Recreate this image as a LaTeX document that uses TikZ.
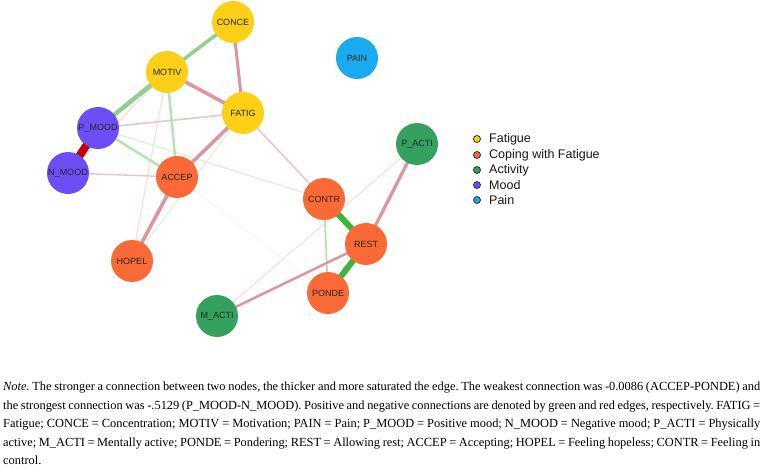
\documentclass[tikz,border=0pt]{standalone}
\usepackage{fontspec}
\setmainfont{Liberation Serif}
\setsansfont{Liberation Sans}
\definecolor{nYel}{HTML}{FDD017}
\definecolor{nOra}{HTML}{FA6A36}
\definecolor{nGre}{HTML}{34A15E}
\definecolor{nPur}{HTML}{6C4DF6}
\definecolor{nBlu}{HTML}{19AAF0}
\definecolor{posS}{HTML}{3DB53D}
\definecolor{posM}{HTML}{8ED18E}
\definecolor{posL}{HTML}{B8E2B8}
\definecolor{posF}{HTML}{DFF1DF}
\definecolor{negS}{HTML}{C00000}
\definecolor{negM}{HTML}{DB979C}
\definecolor{negL}{HTML}{EDC3C8}
\definecolor{negF}{HTML}{F6E0E3}
\definecolor{negX}{HTML}{FAF0F1}
\pgfdeclarelayer{bg}
\pgfdeclarelayer{edges}
\pgfsetlayers{bg,edges,main}
\tikzset{
  vnode/.style={circle, minimum size=42pt, inner sep=0pt, font=\sffamily\fontsize{9}{10}\selectfont, text=black!85},
  edge/.style={line cap=butt},
  legdot/.style={circle, minimum size=7pt, inner sep=0pt, draw=black!80, line width=0.8pt},
  legtxt/.style={anchor=west, inner sep=0pt, font=\sffamily\fontsize{12.5}{14}\selectfont, text=black!90}
}
\begin{document}
\begin{tikzpicture}[x=1pt,y=-1pt]
\begin{pgfonlayer}{bg}
\fill[white] (0,0) rectangle (763,468);
\end{pgfonlayer}
\useasboundingbox (0,0) rectangle (763,468);
\node[vnode, fill=nYel] (CONCE) at (233,22) {CONCE};
\node[vnode, fill=nYel] (MOTIV) at (167,72) {MOTIV};
\node[vnode, fill=nBlu] (PAIN) at (357,58) {PAIN};
\node[vnode, fill=nYel] (FATIG) at (243,113) {FATIG};
\node[vnode, fill=nPur] (PMOOD) at (98,128) {P\_MOOD};
\node[vnode, fill=nPur] (NMOOD) at (68,173) {N\_MOOD};
\node[vnode, fill=nOra] (ACCEP) at (177,177) {ACCEP};
\node[vnode, fill=nOra] (CONTR) at (324,199) {CONTR};
\node[vnode, fill=nGre] (PACTI) at (417,144) {P\_ACTI};
\node[vnode, fill=nOra] (REST) at (366,244) {REST};
\node[vnode, fill=nOra] (PONDE) at (328,293) {PONDE};
\node[vnode, fill=nOra] (HOPEL) at (132,261) {HOPEL};
\node[vnode, fill=nGre] (MACTI) at (217,316) {M\_ACTI};
\begin{pgfonlayer}{edges}
% faint
\draw[edge, negX, line width=0.8pt] (ACCEP.center) -- (PONDE.center);
\draw[edge, posF, line width=1.2pt] (FATIG.center) -- (HOPEL.center);
\draw[edge, negF, line width=1.3pt] (MOTIV.center) -- (HOPEL.center);
\draw[edge, negF, line width=1.2pt] (PACTI.center) -- (MACTI.center);
\draw[edge, posF, line width=1.5pt] (PMOOD.center) -- (CONTR.center);
\draw[edge, negF, line width=1.5pt] (MOTIV.center) -- (NMOOD.center);
\draw[edge, negL, line width=1.4pt] (NMOOD.center) -- (ACCEP.center);
\draw[edge, negL, line width=1.6pt] (PMOOD.center) -- (FATIG.center);
\draw[edge, negL, line width=1.6pt] (FATIG.center) -- (CONTR.center);
\draw[edge, posL, line width=1.8pt] (CONTR.center) -- (PONDE.center);
% medium
\draw[edge, posL, line width=2.5pt] (MOTIV.center) -- (ACCEP.center);
\draw[edge, posL, line width=2.6pt] (PMOOD.center) -- (ACCEP.center);
\draw[edge, negM, line width=2.5pt] (REST.center) -- (MACTI.center);
\draw[edge, negM, line width=3pt] (CONCE.center) -- (FATIG.center);
\draw[edge, negM, line width=3.3pt] (PACTI.center) -- (REST.center);
\draw[edge, negM, line width=3.6pt] (MOTIV.center) -- (FATIG.center);
\draw[edge, negM, line width=3.6pt] (FATIG.center) -- (ACCEP.center);
\draw[edge, negM, line width=3.6pt] (ACCEP.center) -- (HOPEL.center);
\draw[edge, posM, line width=3.5pt] (CONCE.center) -- (MOTIV.center);
\draw[edge, posM, line width=4.5pt] (MOTIV.center) -- (PMOOD.center);
% strong
\draw[edge, posS, line width=6pt] (CONTR.center) -- (REST.center);
\draw[edge, posS, line width=6pt] (REST.center) -- (PONDE.center);
\draw[edge, negS, line width=8pt] (PMOOD.center) -- (NMOOD.center);
\end{pgfonlayer}
% legend
\node[legdot, fill=nYel] (d1) at (477,139) {};
\node[legdot, fill=nOra] (d2) at (477,155) {};
\node[legdot, fill=nGre] (d3) at (477,170) {};
\node[legdot, fill=nPur] (d4) at (477,185) {};
\node[legdot, fill=nBlu] (d5) at (477,200) {};
\node[legtxt] (l1) at (489,139) {Fatigue};
\node[legtxt] (l2) at (489,155) {Coping with Fatigue};
\node[legtxt] (l3) at (489,170) {Activity};
\node[legtxt] (l4) at (489,185) {Mood};
\node[legtxt] (l5) at (489,200) {Pain};
% note
\node[anchor=north west, inner sep=0pt, text width=757pt, align=justify,
      font=\fontsize{12.4}{18.4}\selectfont\frenchspacing] (note) at (3,382)
{\textit{Note.} The stronger a connection between two nodes, the thicker and more saturated the edge. The weakest connection was -0.0086 (ACCEP-PONDE) and\linebreak
the strongest connection was -.5129 (P\_MOOD-N\_MOOD). Positive and negative connections are denoted by green and red edges, respectively. FATIG =\linebreak
Fatigue; CONCE = Concentration; MOTIV = Motivation; PAIN = Pain; P\_MOOD = Positive mood; N\_MOOD = Negative mood; P\_ACTI = Physically\linebreak
active; M\_ACTI = Mentally active; PONDE = Pondering; REST = Allowing rest; ACCEP = Accepting; HOPEL = Feeling hopeless; CONTR = Feeling in\linebreak
control.};
\end{tikzpicture}
\end{document}
